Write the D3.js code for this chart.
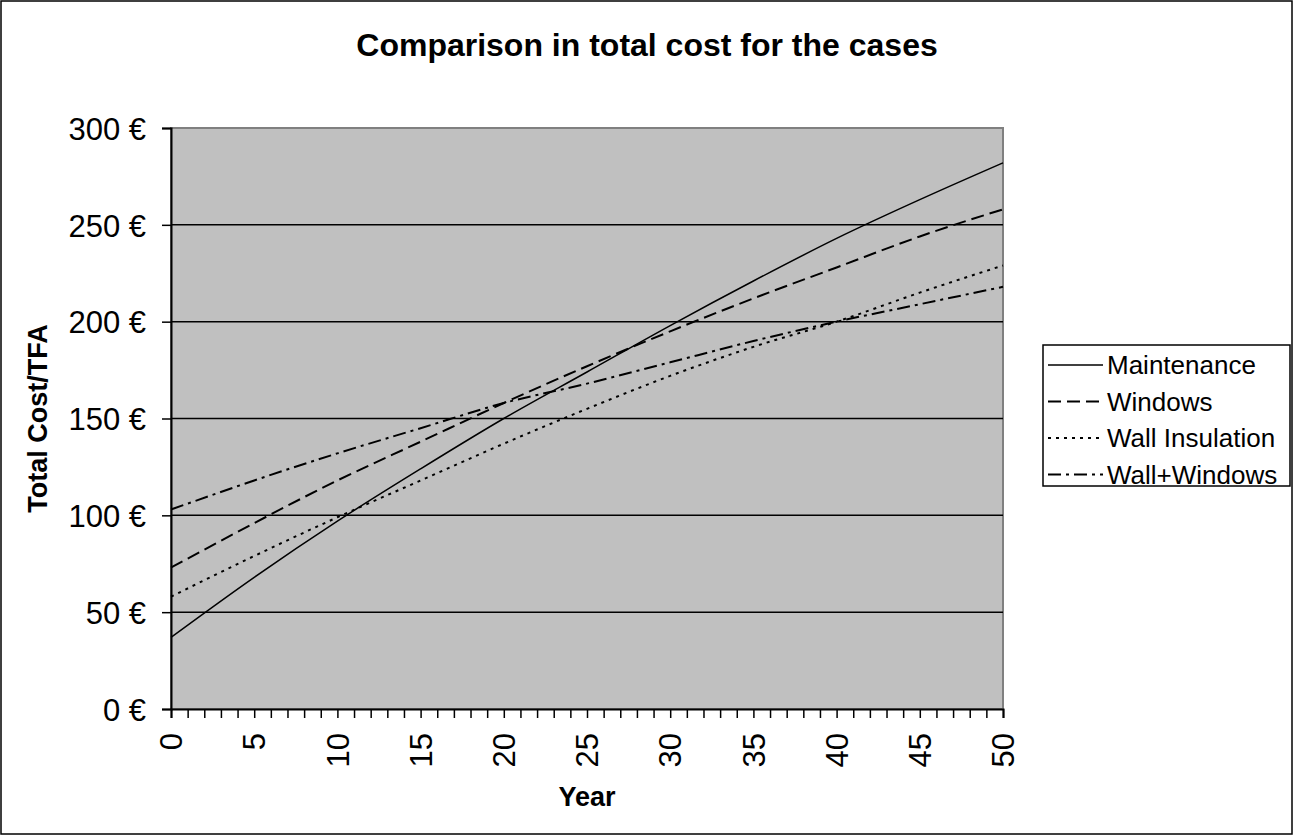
<!DOCTYPE html>
<html>
<head>
<meta charset="utf-8">
<script src="https://cdn.jsdelivr.net/npm/d3@7"></script>
<style>
  body { margin: 0; background: #fff; }
  svg text { font-family: Arial, "Liberation Sans", sans-serif; fill: #000; }
</style>
</head>
<body>
<div id="chart"></div>
<script>
const years = [0, 5, 10, 15, 20, 25, 30, 35, 40, 45, 50];
const maintenance = [37, 68, 97, 124, 150, 174, 198, 221, 243, 263, 282];
const windows = [73, 96, 118, 138, 158, 177, 195, 212, 228, 244, 258];
const wallInsulation = [58, 79, 99, 118, 137, 155, 172, 187, 200, 215, 229];
const wallWindows = [103, 118, 132, 145, 158, 168, 179, 190, 200, 209, 218];
const yTicks = [0, 50, 100, 150, 200, 250, 300];
const xLabels = [0, 5, 10, 15, 20, 25, 30, 35, 40, 45, 50];

const series = [
    { name: 'Maintenance', values: maintenance, dash: null, width: 1.5 },
    { name: 'Windows', values: windows, dash: '13,6', width: 2 },
    { name: 'Wall Insulation', values: wallInsulation, dash: '3,5', width: 2 },
    { name: 'Wall+Windows', values: wallWindows, dash: '13,5,3,5', width: 2 }
];

const W = 1294, H = 836;
const svg = d3.select('#chart').append('svg').attr('width', W).attr('height', H);

// outer chart border
svg.append('rect')
    .attr('x', 1).attr('y', 1).attr('width', W - 3).attr('height', H - 3)
    .attr('fill', '#fff').attr('stroke', '#000').attr('stroke-width', 1.5);

const plot = { left: 171, right: 1003, top: 128, bottom: 709 };

const x = d3.scaleLinear().domain([0, 50]).range([plot.left, plot.right]);
const y = d3.scaleLinear().domain([0, 300]).range([plot.bottom, plot.top]);

// plot area
svg.append('rect')
    .attr('x', plot.left).attr('y', plot.top)
    .attr('width', plot.right - plot.left).attr('height', plot.bottom - plot.top)
    .attr('fill', '#c0c0c0').attr('stroke', '#808080').attr('stroke-width', 2);

// gridlines
svg.append('g').selectAll('line')
    .data(yTicks.filter(d => d > 0 && d < 300))
    .enter().append('line')
    .attr('x1', plot.left).attr('x2', plot.right)
    .attr('y1', d => y(d)).attr('y2', d => y(d))
    .attr('stroke', '#000').attr('stroke-width', 1.5);

// y axis
const yAxis = svg.append('g')
    .attr('transform', `translate(${plot.left},0)`)
    .call(d3.axisLeft(y).tickValues(yTicks).tickSize(9).tickPadding(16).tickFormat(d => d + ' €'));
yAxis.select('.domain').attr('stroke', '#000').attr('stroke-width', 2);
yAxis.selectAll('.tick line').attr('stroke', '#000').attr('stroke-width', 1.5);
yAxis.selectAll('.tick text').style('font-size', '31px').attr('dy', '0.36em');

// x axis
const xAxis = svg.append('g')
    .attr('transform', `translate(0,${plot.bottom})`)
    .call(d3.axisBottom(x).ticks(50).tickSize(9).tickFormat(''));
xAxis.select('.domain').attr('stroke', '#000').attr('stroke-width', 2);
xAxis.selectAll('.tick line').attr('stroke', '#000').attr('stroke-width', 1.5);

svg.append('g').selectAll('text')
    .data(xLabels)
    .enter().append('text')
    .attr('transform', d => `translate(${x(d)},${plot.bottom + 24}) rotate(-90)`)
    .attr('text-anchor', 'end')
    .attr('dy', '0.36em')
    .style('font-size', '31px')
    .text(d => d);

// lines
const line = d3.line()
    .x((d, i) => x(years[i]))
    .y(d => y(d))
    .curve(d3.curveMonotoneX);

svg.append('g').selectAll('path')
    .data(series)
    .enter().append('path')
    .attr('fill', 'none')
    .attr('stroke', '#000')
    .attr('stroke-width', d => d.width)
    .attr('stroke-dasharray', d => d.dash)
    .attr('d', d => line(d.values));

// title
svg.append('text')
    .attr('x', 647).attr('y', 56)
    .attr('text-anchor', 'middle')
    .style('font-size', '32px')
    .style('font-weight', 'bold')
    .text('Comparison in total cost for the cases');

// axis titles
svg.append('text')
    .attr('transform', `translate(47,${(plot.top + plot.bottom) / 2}) rotate(-90)`)
    .attr('text-anchor', 'middle')
    .style('font-size', '27px')
    .style('font-weight', 'bold')
    .text('Total Cost/TFA');

svg.append('text')
    .attr('x', (plot.left + plot.right) / 2).attr('y', 806)
    .attr('text-anchor', 'middle')
    .style('font-size', '27px')
    .style('font-weight', 'bold')
    .text('Year');

// legend
const legend = svg.append('g').attr('transform', 'translate(1043,345)');
legend.append('rect')
    .attr('x', 0).attr('y', 0).attr('width', 247).attr('height', 141)
    .attr('fill', '#fff').attr('stroke', '#000').attr('stroke-width', 1.5);

const item = legend.selectAll('.item')
    .data(series)
    .enter().append('g')
    .attr('class', 'item')
    .attr('transform', (d, i) => `translate(0,${20 + i * 36.5})`);

item.append('line')
    .attr('x1', 5).attr('x2', 60).attr('y1', 0).attr('y2', 0)
    .attr('stroke', '#000')
    .attr('stroke-width', d => d.width)
    .attr('stroke-dasharray', d => d.dash);

item.append('text')
    .attr('x', 64).attr('dy', '0.36em')
    .style('font-size', '26px')
    .text(d => d.name);
</script>
</body>
</html>
